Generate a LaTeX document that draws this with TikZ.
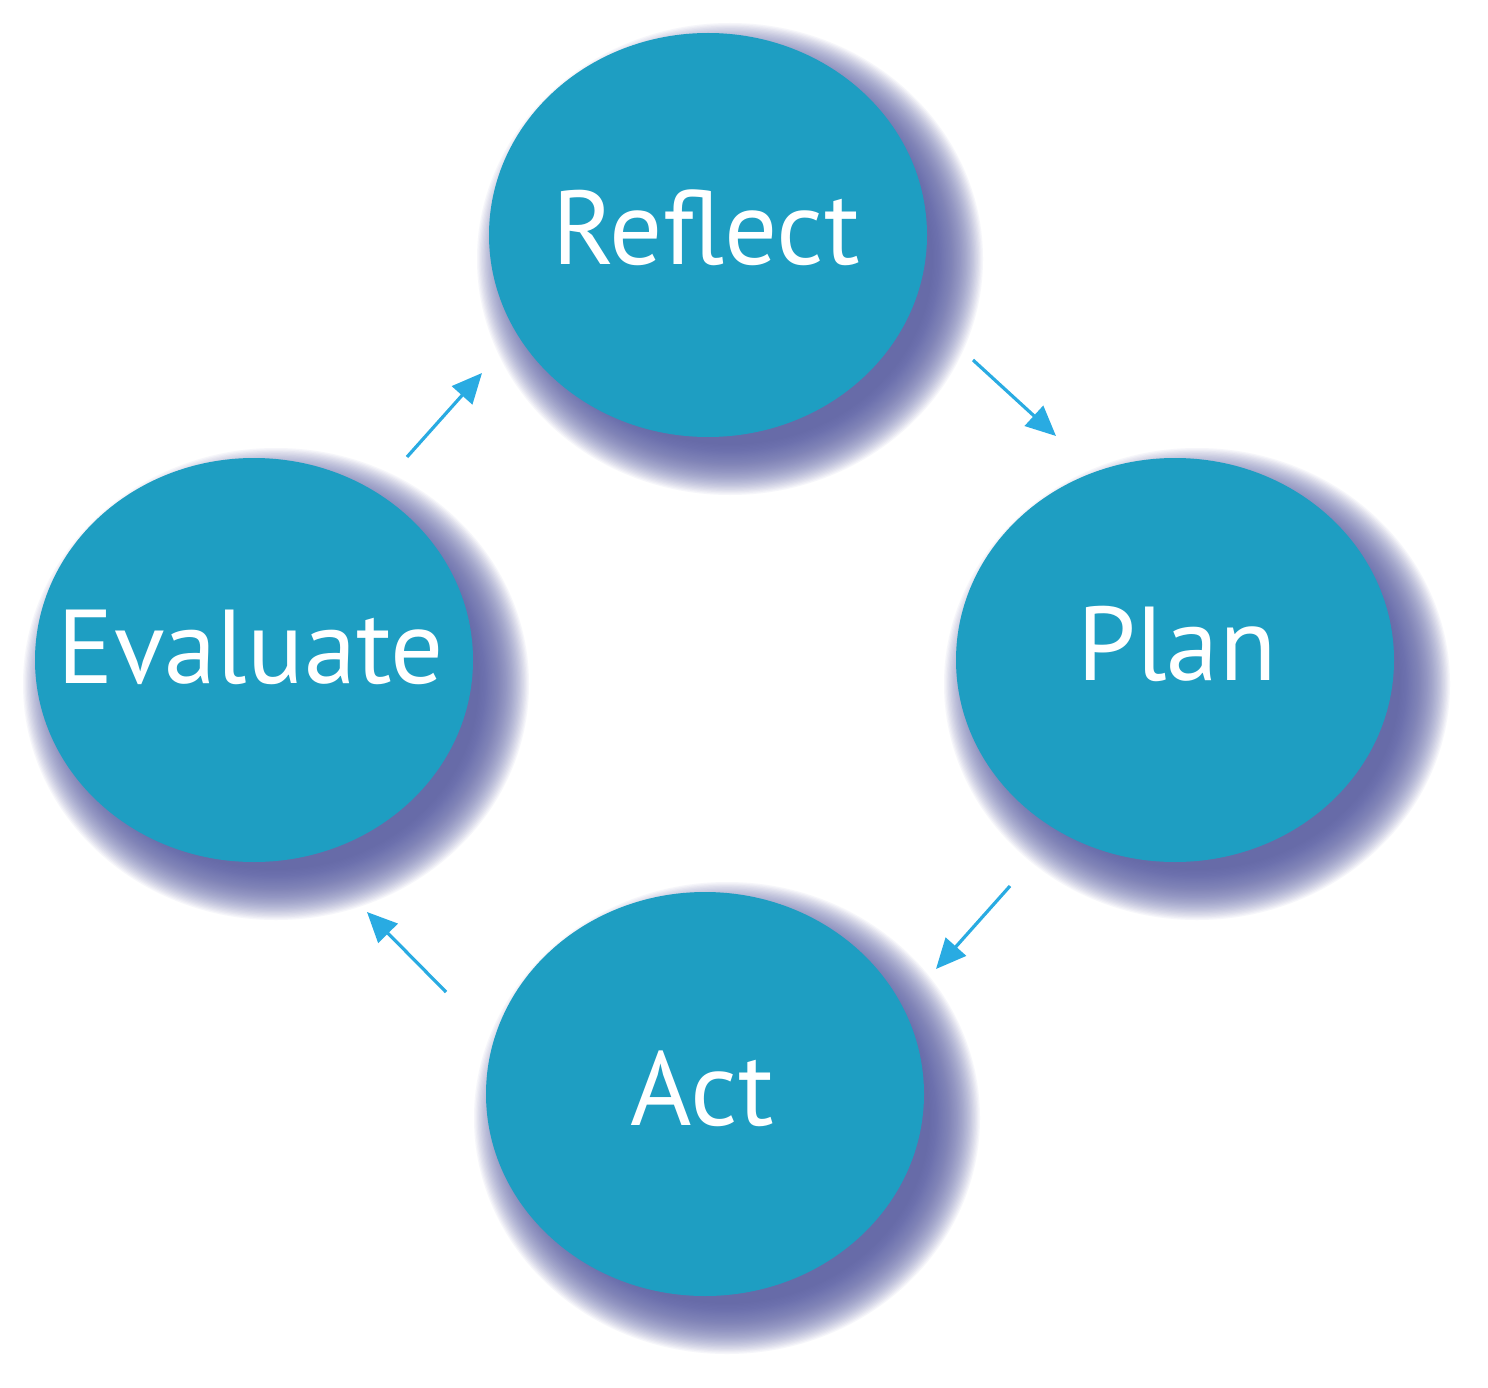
\documentclass[tikz,border=0pt]{standalone}
\usepackage{fontspec}
\setmainfont{PT Sans}
\usetikzlibrary{arrows.meta,shapes.geometric}
\definecolor{circfill}{HTML}{1E9EC2}
\definecolor{shadowc}{HTML}{5A5EA6}
\definecolor{arrowc}{HTML}{29ABE2}
\tikzset{
  stage/.style={ellipse, fill=circfill, minimum width=438pt, minimum height=404pt, inner sep=0pt},
  stagelabel/.style={text=white, font=\fontsize{105}{105}\selectfont, anchor=base},
  flow/.style={draw=arrowc, line width=3.2pt, -{Triangle[length=30pt,width=27pt]}}
}
\newcommand{\mkshadow}[2]{%
  \foreach \k in {0,...,39}{%
    \pgfmathsetmacro{\ex}{219+34-1.3*\k}%
    \pgfmathsetmacro{\ey}{202+34-1.3*\k}%
    \fill[shadowc, opacity=0.05] (#1+22,#2+24) ellipse [x radius=\ex pt, y radius=\ey pt];%
  }%
}
\begin{document}
\begin{tikzpicture}[x=1pt,y=-1pt]
\useasboundingbox (0,0) rectangle (1488,1388);
\fill[white] (0,0) rectangle (1488,1388);
% shadows
\mkshadow{708}{235}
\mkshadow{1175}{660}
\mkshadow{254}{660}
\mkshadow{705}{1094}
% ellipses
\node[stage] (reflect) at (708,235) {};
\node[stage] (plan) at (1175,660) {};
\node[stage] (evaluate) at (254,660) {};
\node[stage] (act) at (705,1094) {};
% labels
\node[stagelabel] (treflect) at (706,265) {Reflect};
\node[stagelabel] (tplan) at (1177,680) {Plan};
\node[stagelabel] (tevaluate) at (251,683) {Evaluate};
\node[stagelabel] (tact) at (702,1125) {Act};
% arrow end points
\coordinate (a1s) at (973,360); \coordinate (a1e) at (1056,436);
\coordinate (a2s) at (1010,886); \coordinate (a2e) at (936,969);
\coordinate (a3s) at (446,992); \coordinate (a3e) at (367,912);
\coordinate (a4s) at (407,457); \coordinate (a4e) at (482,373);
\draw[flow] (a1s) -- (a1e);
\draw[flow] (a2s) -- (a2e);
\draw[flow] (a3s) -- (a3e);
\draw[flow] (a4s) -- (a4e);
\end{tikzpicture}
\end{document}
